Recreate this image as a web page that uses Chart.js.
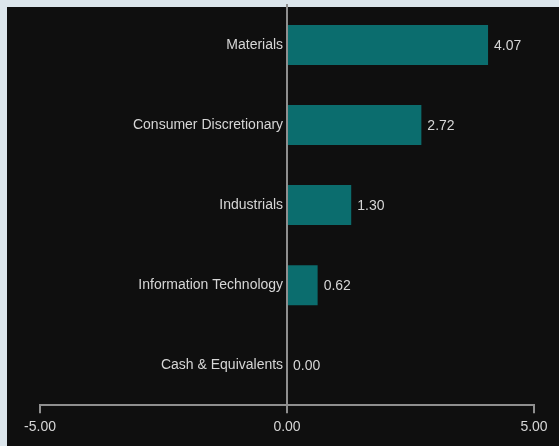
<!DOCTYPE html>
<html>
<head>
<meta charset="utf-8">
<script src="https://cdn.jsdelivr.net/npm/chart.js@4"></script>
<style>
  html, body { margin: 0; padding: 0; background: #dce6ec; }
  #wrap { position: relative; width: 559px; height: 446px; }
</style>
</head>
<body>
<div id="wrap"><canvas id="sectors" width="559" height="446"></canvas></div>
<script>
const sectors = ["Materials", "Consumer Discretionary", "Industrials", "Information Technology", "Cash & Equivalents"];
const weights = [4.07, 2.72, 1.30, 0.62, 0.00];
const axisMin = -5;
const axisMax = 5;

// dark panel behind the plot, light frame around it
const panelBg = {
  id: 'panelBg',
  beforeDraw(chart) {
    const c = chart.ctx;
    c.save();
    c.fillStyle = '#dce6ec';
    c.fillRect(0, 0, chart.width, chart.height);
    c.fillStyle = '#0f0f0f';
    c.fillRect(7, 7, chart.width - 7, chart.height - 7);
    c.restore();
  }
};

// value text right of each bar
const valueLabels = {
  id: 'valueLabels',
  afterDatasetsDraw(chart) {
    const c = chart.ctx;
    const meta = chart.getDatasetMeta(0);
    c.save();
    c.font = '14px "Liberation Sans", Arial, sans-serif';
    c.fillStyle = '#d6d6d6';
    c.textBaseline = 'middle';
    c.textAlign = 'left';
    meta.data.forEach(function (bar, i) {
      c.fillText(weights[i].toFixed(2), bar.x + 6, bar.y + 1);
    });
    c.restore();
  }
};

// let the layout padding alone decide the plot box
function noEdgePadding(scale) {
  scale.paddingTop = 0;
  scale.paddingBottom = 0;
  scale.paddingLeft = 0;
  scale.paddingRight = 0;
}

new Chart(document.getElementById('sectors').getContext('2d'), {
  type: 'bar',
  data: {
    labels: sectors,
    datasets: [{
      data: weights,
      backgroundColor: '#0b6d6e',
      barPercentage: 0.5,
      categoryPercentage: 1.0
    }]
  },
  options: {
    indexAxis: 'y',
    responsive: false,
    animation: false,
    layout: { padding: { left: 40, right: 25, top: 5, bottom: 4 } },
    plugins: { legend: { display: false }, tooltip: { enabled: false } },
    scales: {
      x: {
        min: axisMin,
        max: axisMax,
        afterFit: noEdgePadding,
        ticks: {
          stepSize: 5,
          color: '#d6d6d6',
          padding: 6,
          font: { size: 14, family: '"Liberation Sans", Arial, sans-serif' },
          callback: function (v) { return Number(v).toFixed(2); }
        },
        grid: { drawOnChartArea: false, tickLength: 8, color: '#8f8f8f', lineWidth: 2 },
        border: { display: true, color: '#8f8f8f', width: 2 }
      },
      y: {
        position: { x: 0 },
        afterFit: noEdgePadding,
        ticks: {
          color: '#d6d6d6',
          font: { size: 14, family: '"Liberation Sans", Arial, sans-serif' },
          callback: function (v) { return sectors[v] + ' '; }
        },
        grid: { display: false, drawTicks: false },
        border: { display: true, color: '#8f8f8f', width: 2 }
      }
    }
  },
  plugins: [panelBg, valueLabels]
});
</script>
</body>
</html>
